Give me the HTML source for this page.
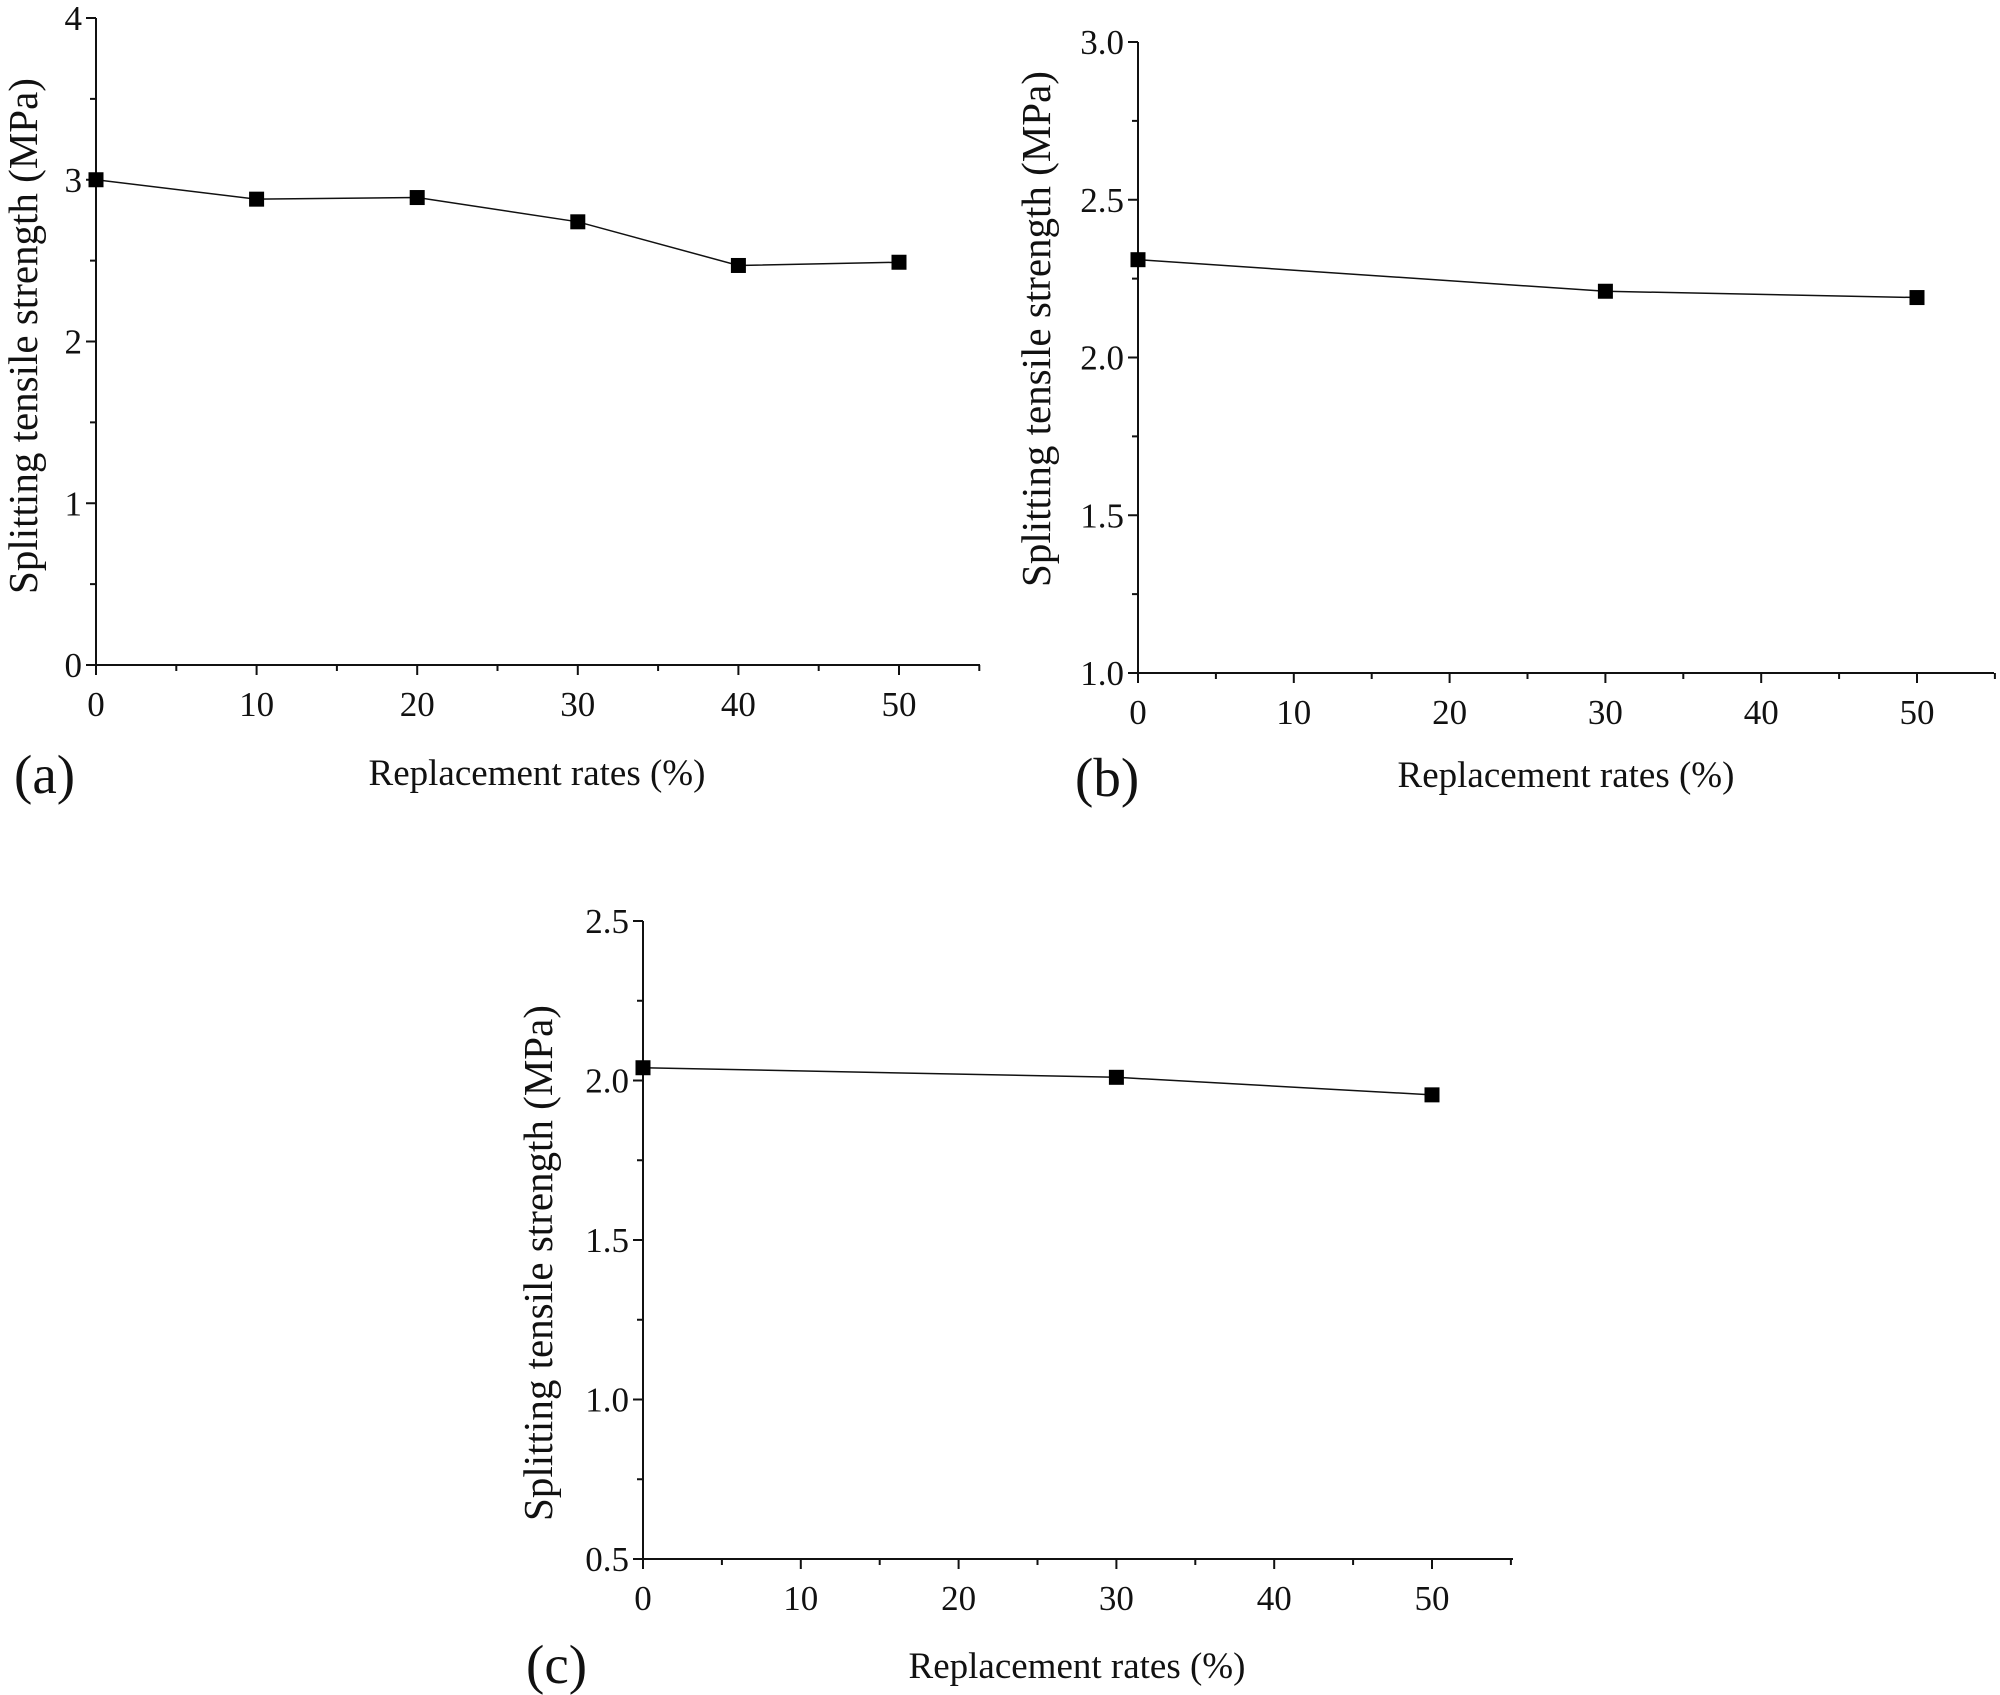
<!DOCTYPE html>
<html><head><meta charset="utf-8"><style>
html,body{margin:0;padding:0;background:#fff}
svg{display:block}
text{font-family:"Liberation Serif",serif;fill:#111}
</style></head><body>
<svg id="fig" width="2000" height="1695" viewBox="0 0 2000 1695" xmlns="http://www.w3.org/2000/svg"></svg>
<script>
// Panel (a)
const xA = [0, 10, 20, 30, 40, 50];
const yA = [3.0, 2.88, 2.89, 2.74, 2.47, 2.49];
const yTicksA = [0, 1, 2, 3, 4];
const yLabelsA = ["0", "1", "2", "3", "4"];
// Panel (b)
const xB = [0, 30, 50];
const yB = [2.31, 2.21, 2.19];
const yTicksB = [1.0, 1.5, 2.0, 2.5, 3.0];
const yLabelsB = ["1.0", "1.5", "2.0", "2.5", "3.0"];
// Panel (c)
const xC = [0, 30, 50];
const yC = [2.04, 2.01, 1.955];
const yTicksC = [0.5, 1.0, 1.5, 2.0, 2.5];
const yLabelsC = ["0.5", "1.0", "1.5", "2.0", "2.5"];
const xTicks = [0, 10, 20, 30, 40, 50];
const xLabels = ["0", "10", "20", "30", "40", "50"];

const NS = "http://www.w3.org/2000/svg";
const svg = document.getElementById("fig");
function mk(tag, attrs, parent) {
  const e = document.createElementNS(NS, tag);
  for (const k in attrs) e.setAttribute(k, attrs[k]);
  (parent || svg).appendChild(e);
  return e;
}
function panel(cfg) {
  const g = mk("g", {});
  
  
  const sx = v => cfg.x0 + (v - 0) / 50 * (cfg.x50 - cfg.x0);
  const sy = v => cfg.yb + (v - cfg.ymin) / (cfg.ymax - cfg.ymin) * (cfg.yt - cfg.yb);
  const ax = mk("line", {x1: cfg.x0, y1: cfg.yb, x2: cfg.xend, y2: cfg.yb, stroke: "#111", "stroke-width": 2}, g);
  
  
  const ay = mk("line", {x1: cfg.x0, y1: cfg.yb, x2: cfg.x0, y2: cfg.yt, stroke: "#111", "stroke-width": 2}, g);
  
  
  for (let v = 0; v <= 55; v += 5) {
    const major = v % 10 === 0;
    mk("line", {x1: sx(v), y1: cfg.yb, x2: sx(v), y2: cfg.yb + (major ? 10 : 6), stroke: "#111", "stroke-width": 2}, g);
  }
  xTicks.forEach((v, i) => {
    const t = mk("text", {x: sx(v), y: cfg.yb + 51, "font-size": 35, "text-anchor": "middle"}, g);
    t.textContent = xLabels[i];
    
    
  });
  const step = cfg.yTicks[1] - cfg.yTicks[0];
  for (let i = 0; i < cfg.yTicks.length; i++) {
    const v = cfg.yTicks[i];
    mk("line", {x1: cfg.x0, y1: sy(v), x2: cfg.x0 - 10, y2: sy(v), stroke: "#111", "stroke-width": 2}, g);
    if (i < cfg.yTicks.length - 1) {
      const m = v + step / 2;
      mk("line", {x1: cfg.x0, y1: sy(m), x2: cfg.x0 - 6, y2: sy(m), stroke: "#111", "stroke-width": 2}, g);
    }
    const t = mk("text", {x: cfg.x0 - 14, y: sy(v) + 12, "font-size": 35, "text-anchor": "end"}, g);
    t.textContent = cfg.yLabels[i];
    
    
  }
  const pts = cfg.xs.map((x, i) => sx(x) + "," + sy(cfg.ys[i])).join(" ");
  const pl = mk("polyline", {points: pts, fill: "none", stroke: "#111", "stroke-width": 1.5}, g);
  
  
  cfg.xs.forEach((x, i) => {
    const r = mk("rect", {x: sx(x) - 7.5, y: sy(cfg.ys[i]) - 7.5, width: 15, height: 15, fill: "#000"}, g);
    
    
  });
  const xl = mk("text", {x: cfg.xlx, y: cfg.xly, "font-size": 37, "text-anchor": "middle"}, g);
  xl.textContent = "Replacement rates (%)";
  
  
  const yl = mk("text", {x: 0, y: 0, "font-size": 41, "text-anchor": "middle", transform: `translate(${cfg.ylx},${cfg.yly}) rotate(-90)`}, g);
  yl.textContent = "Splitting tensile strength (MPa)";
  
  
  const pl2 = mk("text", {x: cfg.plx, y: cfg.ply, "font-size": 55}, g);
  pl2.textContent = "(" + cfg.id + ")";
  
  
}
panel({id: "a", x0: 96, x50: 899, xend: 980, yt: 18, yb: 665, ymin: 0, ymax: 4,
  yTicks: yTicksA, yLabels: yLabelsA, xs: xA, ys: yA,
  xlx: 537, xly: 785, ylx: 37, yly: 336, plx: 14, ply: 793});
panel({id: "b", x0: 1138, x50: 1917, xend: 1994, yt: 42, yb: 673, ymin: 1, ymax: 3,
  yTicks: yTicksB, yLabels: yLabelsB, xs: xB, ys: yB,
  xlx: 1566, xly: 787, ylx: 1050, yly: 329, plx: 1075, ply: 796});
panel({id: "c", x0: 643, x50: 1432, xend: 1513, yt: 921, yb: 1559, ymin: 0.5, ymax: 2.5,
  yTicks: yTicksC, yLabels: yLabelsC, xs: xC, ys: yC,
  xlx: 1077, xly: 1678, ylx: 552, yly: 1263, plx: 526, ply: 1683});
</script>
</body></html>
